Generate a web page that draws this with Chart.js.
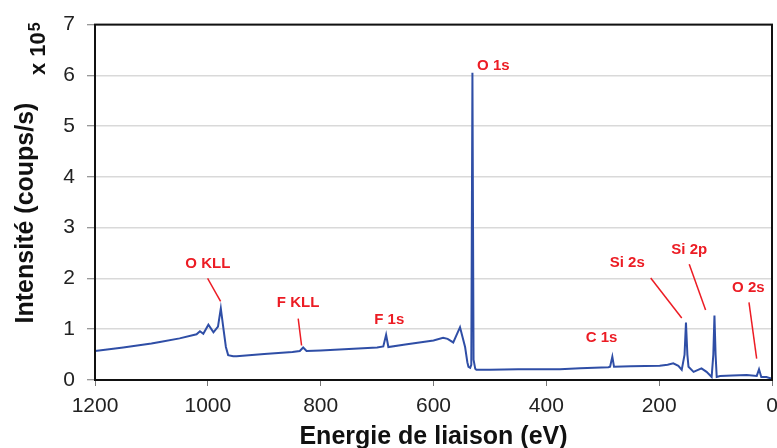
<!DOCTYPE html>
<html>
<head>
<meta charset="utf-8">
<script src="https://cdn.jsdelivr.net/npm/chart.js@4/dist/chart.umd.min.js"></script>
<style>
  html, body { margin: 0; padding: 0; background: #fff; }
  #wrap { width: 777px; height: 448px; position: relative; }
</style>
</head>
<body>
<div id="wrap"><canvas id="xps"></canvas></div>
<script>
(function () {
  'use strict';

  // binding energy (eV) and intensity (x 10^5 counts/s)
  var energies = [
    1200, 1150, 1100, 1085, 1050, 1020, 1014, 1008, 999, 990, 982, 977, 972, 968, 964, 955, 949,
    900, 850, 837, 831, 825, 800, 750, 700, 689, 684, 680, 650, 600, 583, 575, 565, 553, 544,
    540, 538, 535, 533, 531, 529, 526, 524, 500, 450, 400, 376, 340, 290, 287, 283, 280, 250,
    199, 185, 175, 166, 160, 155, 152.5, 150, 148, 139, 125, 116, 107, 104, 102, 100, 98, 92,
    70, 45, 27, 23, 19, 10, 2, 0
  ];
  var intensity = [
    0.57, 0.64, 0.72, 0.75, 0.82, 0.90, 0.96, 0.91, 1.09, 0.94, 1.05, 1.41, 0.98, 0.65, 0.49, 0.47, 0.47,
    0.51, 0.55, 0.57, 0.64, 0.57, 0.58, 0.61, 0.64, 0.66, 0.89, 0.65, 0.70, 0.78, 0.83, 0.81, 0.74, 1.04, 0.65,
    0.35, 0.26, 0.24, 0.30, 6.05, 0.40, 0.22, 0.20, 0.20, 0.21, 0.21, 0.21, 0.23, 0.25, 0.26, 0.46, 0.26, 0.27,
    0.28, 0.30, 0.33, 0.28, 0.20, 0.50, 1.13, 0.50, 0.26, 0.16, 0.23, 0.16, 0.06, 0.50, 1.27, 0.50, 0.06, 0.08,
    0.09, 0.10, 0.08, 0.21, 0.06, 0.06, 0.03, 0.04
  ];

  // peak labels: text, label anchor (eV, intensity), optional leader line
  var peakLabels = ['O KLL', 'F KLL', 'F 1s', 'O 1s', 'C 1s', 'Si 2s', 'Si 2p', 'O 2s'];
  var labelAt = [[1000, 2.29], [840, 1.51], [678.5, 1.19], [494, 6.18], [302, 0.83], [256.5, 2.31], [146.7, 2.56], [42, 1.82]];
  var leaderFrom = [[1000.4, 2.0], [839.8, 1.21], null, null, null, [215, 2.01], [146.7, 2.28], [40.8, 1.53]];
  var leaderTo = [[977.4, 1.55], [833.8, 0.68], null, null, null, [160, 1.22], [117.7, 1.38], [27.2, 0.42]];

  var xTicks = [1200, 1000, 800, 600, 400, 200, 0];

  var FONT = "'Liberation Sans', Arial, sans-serif";
  var RED = '#ec1c24';

  var points = energies.map(function (e, i) { return { x: e, y: intensity[i] }; });

  var peakLabelPlugin = {
    id: 'peakLabels',
    afterDatasetsDraw: function (chart) {
      var ctx = chart.ctx;
      var xs = chart.scales.x;
      var ys = chart.scales.y;
      ctx.save();
      ctx.strokeStyle = RED;
      ctx.lineWidth = 1.5;
      ctx.fillStyle = RED;
      ctx.font = 'bold 15px ' + FONT;
      ctx.textAlign = 'center';
      ctx.textBaseline = 'middle';
      peakLabels.forEach(function (txt, i) {
        ctx.fillText(txt, xs.getPixelForValue(labelAt[i][0]), ys.getPixelForValue(labelAt[i][1]));
        if (leaderFrom[i]) {
          ctx.beginPath();
          ctx.moveTo(xs.getPixelForValue(leaderFrom[i][0]), ys.getPixelForValue(leaderFrom[i][1]));
          ctx.lineTo(xs.getPixelForValue(leaderTo[i][0]), ys.getPixelForValue(leaderTo[i][1]));
          ctx.stroke();
        }
      });
      ctx.restore();
    }
  };

  var framePlugin = {
    id: 'frameAndTitle',
    afterDraw: function (chart) {
      var ctx = chart.ctx;
      var a = chart.chartArea;
      ctx.save();
      ctx.strokeStyle = '#111';
      ctx.lineWidth = 2;
      ctx.strokeRect(a.left, a.top, a.right - a.left, a.bottom - a.top);

      // rotated y title with the x 10^5 multiplier above it
      ctx.fillStyle = '#111';
      ctx.textBaseline = 'alphabetic';
      ctx.translate(33, 213);
      ctx.rotate(-Math.PI / 2);
      ctx.textAlign = 'center';
      ctx.font = 'bold 25px ' + FONT;
      ctx.fillText('Intensité (coups/s)', 0, 0);
      ctx.restore();

      ctx.save();
      ctx.fillStyle = '#111';
      ctx.translate(45, 75);
      ctx.rotate(-Math.PI / 2);
      ctx.textAlign = 'left';
      ctx.textBaseline = 'alphabetic';
      ctx.font = 'bold 22px ' + FONT;
      ctx.fillText('x 10', 0, 0);
      var w = ctx.measureText('x 10').width;
      ctx.font = 'bold 16px ' + FONT;
      ctx.fillText('5', w + 1, -5);
      ctx.restore();
    }
  };

  new Chart(document.getElementById('xps'), {
    type: 'scatter',
    data: {
      datasets: [{
        data: points,
        showLine: true,
        borderColor: '#2f4ea6',
        borderWidth: 2,
        pointRadius: 0,
        tension: 0
      }]
    },
    options: {
      responsive: true,
      maintainAspectRatio: false,
      animation: false,
      layout: { padding: { top: 22, right: 0, left: 0, bottom: 0 } },
      plugins: {
        legend: { display: false },
        tooltip: { enabled: false }
      },
      scales: {
        x: {
          type: 'linear',
          reverse: true,
          min: 0,
          max: 1200,
          afterBuildTicks: function (scale) {
            scale.ticks = xTicks.map(function (v) { return { value: v }; });
          },
          afterFit: function (scale) {
            scale.height = 68;
            scale.paddingLeft = 0;
            scale.paddingRight = 5;
          },
          grid: { drawOnChartArea: false, tickLength: 6, tickColor: '#777', tickWidth: 1 },
          border: { display: false },
          ticks: {
            color: '#222',
            font: { family: FONT, size: 21 },
            padding: 8,
            maxRotation: 0,
            callback: function (v) { return String(v); }
          },
          title: {
            display: true,
            text: 'Energie de liaison (eV)',
            color: '#111',
            font: { family: FONT, size: 25, weight: 'bold' },
            padding: { top: 0, bottom: -4 }
          }
        },
        y: {
          min: 0,
          max: 7,
          ticks: { stepSize: 1, color: '#222', font: { family: FONT, size: 21 }, padding: 12 },
          afterFit: function (scale) { scale.width = 95; },
          grid: { color: '#d9d9d9', lineWidth: 1.5, tickLength: 8, tickColor: '#777', tickWidth: 1 },
          border: { display: false }
        }
      }
    },
    plugins: [peakLabelPlugin, framePlugin]
  });
})();
</script>
</body>
</html>
